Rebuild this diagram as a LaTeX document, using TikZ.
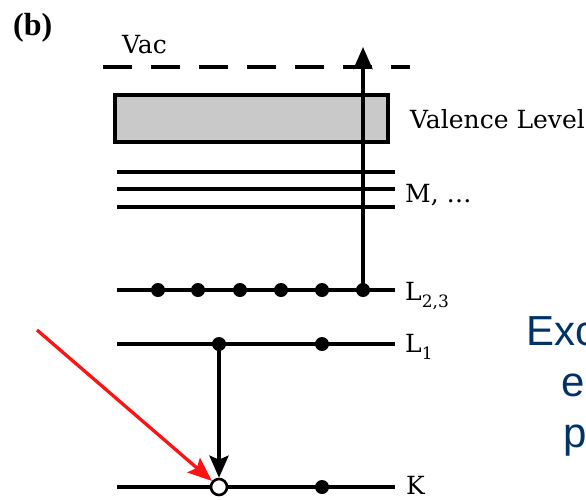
\documentclass[tikz,border=0pt]{standalone}
\usepackage{fontspec}
\newfontfamily\bluefont{Liberation Sans}
\newfontfamily\lblfont{DejaVu Serif}
\newfontfamily\titlefont{Liberation Serif}
\usetikzlibrary{arrows.meta}
\definecolor{txtblue}{RGB}{0,51,102}
\definecolor{boxgray}{RGB}{201,201,201}
\definecolor{arrred}{RGB}{250,20,20}
\newcommand{\subdig}[1]{\raisebox{-7pt}{\fontsize{17}{17}\selectfont #1}}
\begin{document}
\begin{tikzpicture}[x=1pt,y=-1pt,
  level/.style={line width=4.2pt},
  dotnode/.style={circle,fill=black,inner sep=0pt,minimum size=14pt},
  holenode/.style={circle,draw=black,fill=white,line width=2.6pt,inner sep=0pt,minimum size=16pt},
  lbl/.style={font=\lblfont\fontsize{25}{28}\selectfont,anchor=base west,inner sep=0pt},
  bluetxt/.style={font=\bluefont\fontsize{42}{48}\selectfont,text=txtblue,anchor=base west,inner sep=0pt},
  blackarrow/.style={line width=4pt,-{Stealth[length=22pt,width=19pt,inset=4pt]}},
  redarrow/.style={line width=3.3pt,draw=arrred,-{Stealth[length=24pt,width=19pt,inset=4pt]}}]
\useasboundingbox (0,0) rectangle (586,499);
\clip (0,0) rectangle (586,499);
\fill[white] (0,0) rectangle (586,499);

% title and labels
\node[anchor=base west,inner sep=0pt,font=\titlefont\bfseries\fontsize{32}{34}\selectfont] (title) at (13,35) {(b)};
\node[lbl] (vac) at (122,53) {Vac};
\node[lbl] (val) at (410,128) {Valence Level};
\node[lbl] (mlab) at (405,202) {M, \dots};
\node[lbl] (l23lab) at (405,300) {L\subdig{2,3}};
\node[lbl] (l1lab) at (405,352) {L\subdig{1}};
\node[lbl] (klab) at (406,494) {K};

% vacuum level
\draw[line width=4.2pt,dash pattern=on 29pt off 19pt] (103,67) coordinate (vacL) -- (410,67) coordinate (vacR);

% valence band
\draw[line width=4.2pt,fill=boxgray] (115,95) rectangle (388,142);

% M levels
\draw[level] (117,172) coordinate (m1L) -- (395,172) coordinate (m1R);
\draw[level] (117,189) coordinate (m2L) -- (395,189) coordinate (m2R);
\draw[level] (117,207) coordinate (m3L) -- (395,207) coordinate (m3R);

% L23, L1, K levels
\draw[level] (117,290) coordinate (l23L) -- (395,290) coordinate (l23R);
\draw[level] (117,344) coordinate (l1L) -- (395,344) coordinate (l1R);
\draw[level] (117,487) coordinate (kL) -- (395,487) coordinate (kR);

% electrons
\node[dotnode] (a1) at (158,290) {};
\node[dotnode] (a2) at (198,290) {};
\node[dotnode] (a3) at (240,290) {};
\node[dotnode] (a4) at (281,290) {};
\node[dotnode] (a5) at (322,290) {};
\node[dotnode] (a6) at (363,290) {};
\node[dotnode] (b1) at (219,344) {};
\node[dotnode] (b2) at (322,344) {};
\node[dotnode] (c2) at (322,487) {};
\node[holenode] (hole) at (219,487) {};

% transitions
\coordinate (vtop) at (363,47);
\draw[blackarrow] (a6.center) -- (vtop);
\draw[blackarrow] (b1.center) -- (hole);
\coordinate (rs) at (37,330);
\draw[redarrow] (rs) -- (hole);

% blue text, cut off at the right edge as in the reference
\node[bluetxt] (t1) at (526,345) {Exc};
\node[bluetxt] (t2) at (561,396) {e};
\node[bluetxt] (t3) at (563,447) {p};
\end{tikzpicture}
\end{document}
